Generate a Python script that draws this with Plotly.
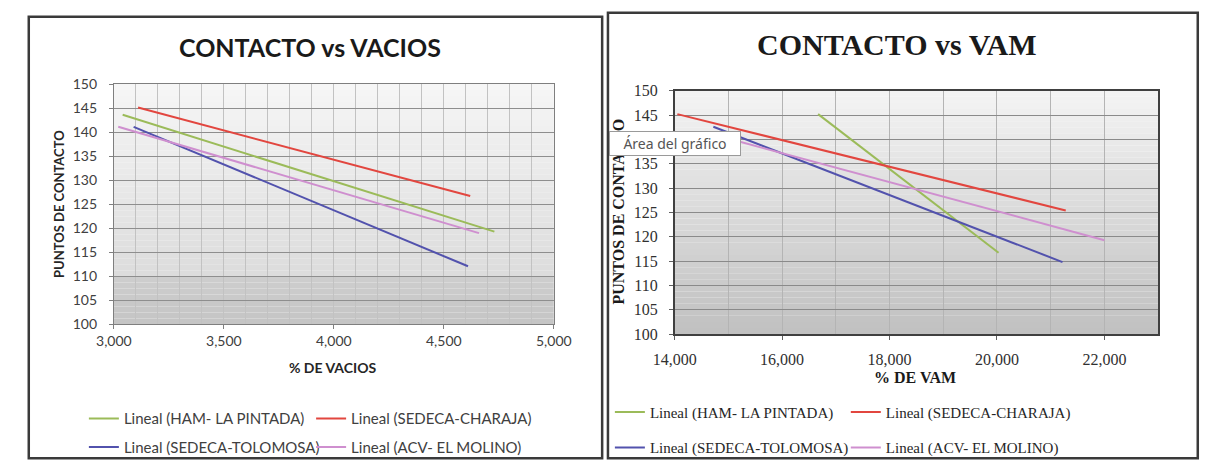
import plotly.graph_objects as go

W, H = 1209, 471

# ---------------- data ----------------
series_names = [
    "Lineal (HAM- LA PINTADA)",
    "Lineal (SEDECA-CHARAJA)",
    "Lineal (SEDECA-TOLOMOSA)",
    "Lineal (ACV- EL MOLINO)",
]
series_colors = ["#9bbb59", "#e2463f", "#5252ad", "#cf8fcf"]

# CONTACTO vs VACIOS (trend lines: start / end)
vacios_ham_x = [3.04, 4.73]
vacios_ham_y = [143.6, 119.3]
vacios_charaja_x = [3.11, 4.62]
vacios_charaja_y = [145.1, 126.7]
vacios_tolomosa_x = [3.09, 4.61]
vacios_tolomosa_y = [141.1, 112.1]
vacios_molino_x = [3.02, 4.66]
vacios_molino_y = [141.1, 119.0]

# CONTACTO vs VAM (trend lines: start / end)
vam_ham_x = [16.67, 20.03]
vam_ham_y = [145.2, 116.7]
vam_charaja_x = [14.05, 21.28]
vam_charaja_y = [145.2, 125.4]
vam_tolomosa_x = [14.72, 21.22]
vam_tolomosa_y = [142.6, 114.8]
vam_molino_x = [14.75, 22.0]
vam_molino_y = [140.9, 119.3]

vacios_ticks = [3.0, 3.5, 4.0, 4.5, 5.0]
vam_ticks = [14, 16, 18, 20, 22]
contacto_ticks = [100, 105, 110, 115, 120, 125, 130, 135, 140, 145, 150]

left_title = "CONTACTO vs VACIOS"
right_title = "CONTACTO vs VAM"
left_xtitle = "% DE VACIOS"
right_xtitle = "% DE VAM"
ytitle = "PUNTOS DE CONTACTO"
tooltip_text = "Área del gráfico"

# ---------------- helpers ----------------
def fx(p):
    return p / W


def fy(p):
    return 1 - p / H


SANS = "Lato"
SERIF = "Liberation Serif"

fig = go.Figure()

left_sets = [
    (vacios_ham_x, vacios_ham_y, "legend"),
    (vacios_charaja_x, vacios_charaja_y, "legend2"),
    (vacios_tolomosa_x, vacios_tolomosa_y, "legend"),
    (vacios_molino_x, vacios_molino_y, "legend2"),
]
right_sets = [
    (vam_ham_x, vam_ham_y, "legend3"),
    (vam_charaja_x, vam_charaja_y, "legend4"),
    (vam_tolomosa_x, vam_tolomosa_y, "legend3"),
    (vam_molino_x, vam_molino_y, "legend4"),
]

for i, (xs, ys, lg) in enumerate(left_sets):
    fig.add_trace(go.Scatter(
        x=xs, y=ys, mode="lines", name=series_names[i],
        line=dict(color=series_colors[i], width=2),
        xaxis="x", yaxis="y", legend=lg, legendgroup="L%d" % i,
        hoverinfo="skip",
    ))
for i, (xs, ys, lg) in enumerate(right_sets):
    fig.add_trace(go.Scatter(
        x=xs, y=ys, mode="lines", name=series_names[i],
        line=dict(color=series_colors[i], width=2),
        xaxis="x2", yaxis="y2", legend=lg, legendgroup="R%d" % i,
        hoverinfo="skip",
    ))

# ---------------- background gradients (styling) ----------------
shapes = []


def lerp(c0, c1, t):
    return int(round(c0 + (c1 - c0) * t))


N = 40
for k in range(N):
    y0 = 100 + 50 * k / N
    y1 = 100 + 50 * (k + 1) / N
    ym = (y0 + y1) / 2
    if ym >= 110:
        t = (150 - ym) / 40
        g = lerp(246, 220, t)
    else:
        t = (110 - ym) / 10
        g = lerp(206, 196, t)
    shapes.append(dict(type="rect", xref="x domain", yref="y", x0=0, x1=1,
                       y0=y0, y1=y1, fillcolor="rgb(%d,%d,%d)" % (g, g, g),
                       line=dict(width=0), layer="below"))
    t2 = (150 - ym) / 50
    g2 = lerp(244, 192, t2)
    shapes.append(dict(type="rect", xref="x2 domain", yref="y2", x0=0, x1=1,
                       y0=y0, y1=y1, fillcolor="rgb(%d,%d,%d)" % (g2, g2, g2),
                       line=dict(width=0), layer="below"))

# panel borders
shapes.append(dict(type="rect", xref="paper", yref="paper",
                   x0=fx(7), x1=fx(600), y0=fy(467), y1=fy(8),
                   line=dict(color="#3a3a3a", width=2.5), layer="above"))
shapes.append(dict(type="rect", xref="paper", yref="paper",
                   x0=fx(606), x1=fx(1216), y0=fy(467), y1=fy(4),
                   line=dict(color="#3a3a3a", width=2.5), layer="above"))

# ---------------- annotations (titles) ----------------
annotations = [
    dict(text=left_title, x=fx(298), y=fy(40), xref="paper", yref="paper",
         showarrow=False, xanchor="center", yanchor="middle",
         font=dict(family=SANS, size=25, color="#1a1a1a", weight="bold")),
    dict(text=right_title, x=fx(905), y=fy(37), xref="paper", yref="paper",
         showarrow=False, xanchor="center", yanchor="middle",
         font=dict(family=SERIF, size=30, color="#1a1a1a", weight="bold")),
    dict(text=left_xtitle, x=fx(322), y=fy(373), xref="paper", yref="paper",
         showarrow=False, xanchor="center", yanchor="middle",
         font=dict(family=SANS, size=14, color="#262626", weight="bold")),
    dict(text=right_xtitle, x=fx(924), y=fy(383), xref="paper", yref="paper",
         showarrow=False, xanchor="center", yanchor="middle",
         font=dict(family=SERIF, size=16, color="#1a1a1a", weight="bold")),
    dict(text=ytitle, x=fx(38), y=fy(203), xref="paper", yref="paper",
         showarrow=False, xanchor="center", yanchor="middle", textangle=-90,
         font=dict(family=SANS, size=13, color="#262626", weight="bold")),
    dict(text=ytitle, x=fx(617), y=fy(211), xref="paper", yref="paper",
         showarrow=False, xanchor="center", yanchor="middle", textangle=-90,
         font=dict(family=SERIF, size=16, color="#1a1a1a", weight="bold")),
    dict(text=tooltip_text, x=fx(675), y=fy(140), xref="paper", yref="paper",
         showarrow=False, xanchor="center", yanchor="middle",
         width=126, height=19, borderpad=2, borderwidth=1,
         bordercolor="#9a9a9a", bgcolor="#ffffff",
         font=dict(family="Noto Sans", size=14, color="#555555")),
]

# ---------------- axes ----------------
left_tickfont = dict(family=SANS, size=14, color="#404040")
right_tickfont = dict(family=SERIF, size=16, color="#303030")

common_y = dict(range=[100, 150], tickvals=contacto_ticks, tickformat="d",
                showline=True, mirror=True, ticks="outside", ticklen=4,
                zeroline=False, fixedrange=True)

fig.update_layout(
    width=W, height=H, autosize=False,
    margin=dict(l=0, r=0, t=0, b=0),
    paper_bgcolor="#ffffff", plot_bgcolor="rgba(0,0,0,0)",
    separators=",.",
    showlegend=True,
    shapes=shapes,
    annotations=annotations,
    xaxis=dict(domain=[fx(95), fx(550)], anchor="y", range=[3.0, 5.0],
               tickvals=vacios_ticks, tickformat=".3f",
               showgrid=True, gridcolor="#c2c2c2", gridwidth=1,
               minor=dict(dtick=0.1, tick0=3.0, showgrid=True,
                          gridcolor="#c2c2c2", gridwidth=1),
               showline=True, mirror=True, linecolor="#7f7f7f",
               ticks="outside", ticklen=4, tickcolor="#7f7f7f",
               tickfont=left_tickfont, zeroline=False, fixedrange=True),
    yaxis=dict(domain=[fy(328), fy(78)], anchor="x",
               gridcolor="#8e8e8e", gridwidth=1, linecolor="#7f7f7f",
               tickcolor="#7f7f7f", tickfont=left_tickfont,
               ticklabelstandoff=9, **common_y),
    xaxis2=dict(domain=[fx(675), fx(1175)], anchor="y2", range=[14, 23],
                tickvals=vam_ticks, tickformat=".3f",
                showgrid=True, gridcolor="#b4b4b4", gridwidth=1,
                minor=dict(dtick=1, tick0=14, showgrid=True,
                           gridcolor="#b4b4b4", gridwidth=1),
                showline=True, mirror=True, linecolor="#404040", linewidth=1.5,
                ticks="outside", ticklen=4, tickcolor="#606060",
                ticklabelstandoff=6,
                tickfont=right_tickfont, zeroline=False, fixedrange=True),
    yaxis2=dict(domain=[fy(338), fy(85)], anchor="x2",
                gridcolor="#8a8a8a", gridwidth=1, linecolor="#404040",
                linewidth=1.5, tickcolor="#606060", tickfont=right_tickfont,
                ticklabelstandoff=8, **common_y),
    legend=dict(x=fx(64), y=fy(409), xanchor="left", yanchor="top",
                orientation="v", traceorder="grouped", tracegroupgap=6,
                bgcolor="rgba(0,0,0,0)", borderwidth=0,
                font=dict(family=SANS, size=15, color="#404040")),
    legend2=dict(x=fx(299), y=fy(409), xanchor="left", yanchor="top",
                 orientation="v", traceorder="grouped", tracegroupgap=6,
                 bgcolor="rgba(0,0,0,0)", borderwidth=0,
                 font=dict(family=SANS, size=15, color="#404040")),
    legend3=dict(x=fx(608), y=fy(402), xanchor="left", yanchor="top",
                 orientation="v", traceorder="grouped", tracegroupgap=13,
                 bgcolor="rgba(0,0,0,0)", borderwidth=0,
                 font=dict(family=SERIF, size=15, color="#262626")),
    legend4=dict(x=fx(852), y=fy(402), xanchor="left", yanchor="top",
                 orientation="v", traceorder="grouped", tracegroupgap=13,
                 bgcolor="rgba(0,0,0,0)", borderwidth=0,
                 font=dict(family=SERIF, size=15, color="#262626")),
)

fig.write_html(
    "out.html",
    config={"displayModeBar": False},
    post_script="document.body.style.margin='0px';document.body.style.overflow='hidden';",
)
